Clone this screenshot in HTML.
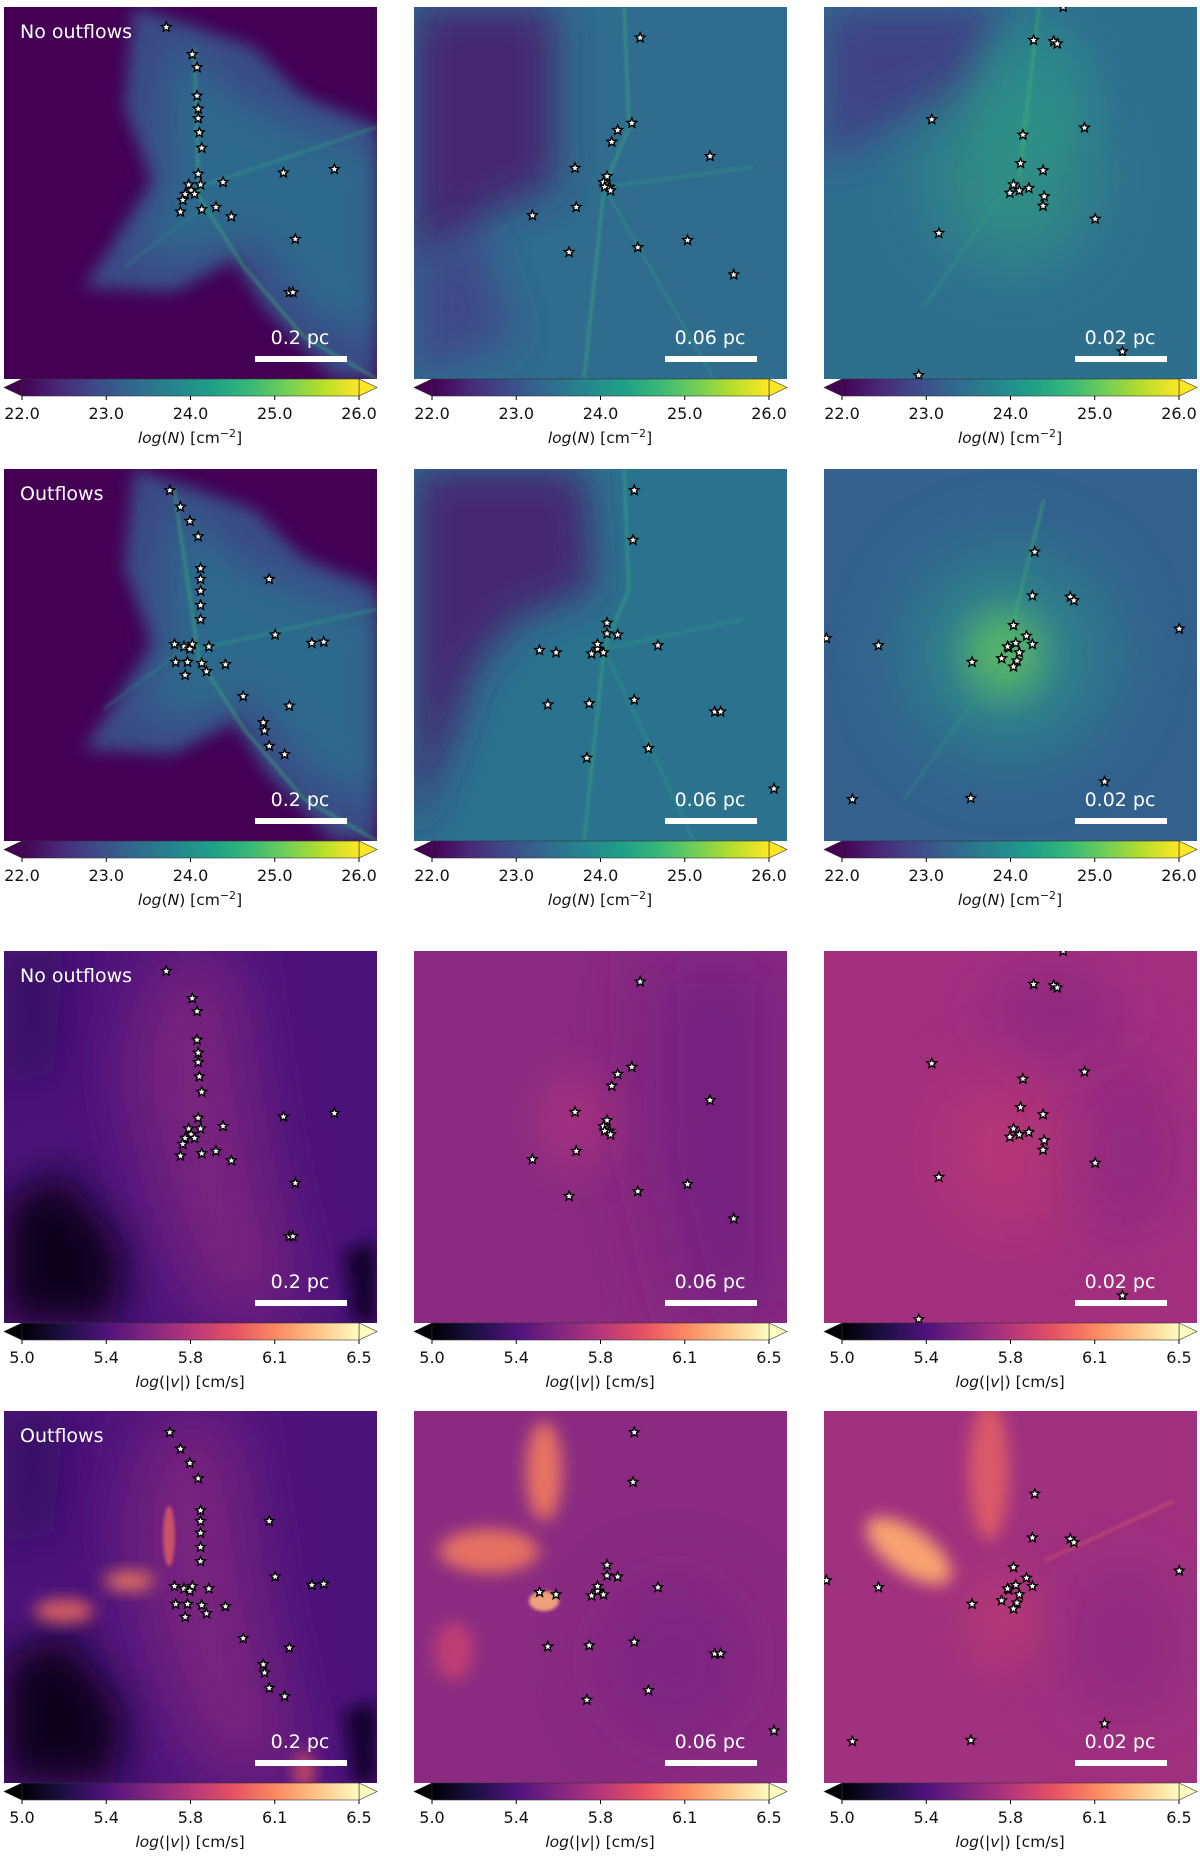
<!DOCTYPE html>
<html><head><meta charset="utf-8">
<style>
html,body{margin:0;padding:0;background:#fff;}
body{width:1200px;height:1853px;overflow:hidden;font-family:"DejaVu Sans","Liberation Sans",sans-serif;}
</style></head>
<body>
<svg id="fig" width="1200" height="1853" viewBox="0 0 1200 1853" xmlns="http://www.w3.org/2000/svg">
<defs>
<linearGradient id="viridis" x1="0" x2="1" y1="0" y2="0">
<stop offset="0" stop-color="#440154"/><stop offset="0.11" stop-color="#482878"/><stop offset="0.22" stop-color="#3e4a89"/><stop offset="0.33" stop-color="#31688e"/><stop offset="0.44" stop-color="#26828e"/><stop offset="0.56" stop-color="#1f9e89"/><stop offset="0.67" stop-color="#35b779"/><stop offset="0.78" stop-color="#6ece58"/><stop offset="0.89" stop-color="#b5de2b"/><stop offset="1" stop-color="#fde725"/>
</linearGradient>
<linearGradient id="magma" x1="0" x2="1" y1="0" y2="0">
<stop offset="0" stop-color="#000004"/><stop offset="0.125" stop-color="#1c1044"/><stop offset="0.25" stop-color="#4f127b"/><stop offset="0.375" stop-color="#812581"/><stop offset="0.5" stop-color="#b5367a"/><stop offset="0.625" stop-color="#e55064"/><stop offset="0.75" stop-color="#fb8761"/><stop offset="0.875" stop-color="#fec287"/><stop offset="1" stop-color="#fcfdbf"/>
</linearGradient>
<filter id="b35" x="-60%" y="-60%" width="220%" height="220%"><feGaussianBlur stdDeviation="35"/></filter>
<filter id="b20" x="-50%" y="-50%" width="200%" height="200%"><feGaussianBlur stdDeviation="20"/></filter>
<filter id="b8" x="-50%" y="-50%" width="200%" height="200%"><feGaussianBlur stdDeviation="8"/></filter>
<filter id="b2" x="-50%" y="-50%" width="200%" height="200%"><feGaussianBlur stdDeviation="1.5"/></filter>
</defs>
</svg>
<script>
// ---- colorbar data ----
const colTicks = ['22.0','23.0','24.0','25.0','26.0'];
const velTicks = ['5.0','5.4','5.8','6.1','6.5'];
const scaleLabels = ['0.2 pc','0.06 pc','0.02 pc'];
const rowLabels = ['No outflows','Outflows','No outflows','Outflows'];
// star positions (display-relative coords, 315px panel)
const starsNoOut1 = [[137,17],[159,40],[163,51],[163,75],[164,86],[164,94],[165,106],[167,119],[164,141],[156,150],[158,155],[153,158],[151,163],[161,158],[166,150],[149,173],[167,171],[179,169],[185,148],[192,177],[236,140],[279,137],[246,196],[241,241],[244,241]];
const starsNoOut2 = [[191,26],[184,98],[172,104],[167,114],[136,136],[163,143],[160,148],[165,152],[161,152],[166,155],[137,169],[100,176],[131,207],[189,203],[231,197],[250,126],[270,226]];
const starsNoOut3 = [[202,0],[177,28],[194,29],[197,31],[91,95],[168,108],[220,102],[166,132],[185,138],[160,150],[165,155],[157,157],[173,153],[186,160],[185,168],[229,179],[97,191],[80,311],[252,291]];
const starsOut1 = [[140,18],[149,32],[157,44],[164,57],[166,84],[166,93],[166,103],[166,115],[166,127],[224,93],[229,140],[144,148],[152,150],[159,148],[157,152],[173,150],[145,163],[155,163],[167,164],[171,171],[153,174],[202,192],[241,200],[219,214],[220,221],[224,234],[237,241],[260,147],[270,146],[187,165]];
const starsOut2 = [[186,18],[185,60],[163,130],[163,139],[172,140],[206,149],[106,153],[120,155],[150,156],[155,152],[160,155],[155,148],[113,199],[148,198],[186,195],[254,205],[259,205],[146,244],[198,236],[304,270]];
const starsOut3 = [[178,70],[176,107],[208,108],[211,111],[300,135],[2,143],[46,149],[160,132],[171,141],[176,148],[156,151],[165,155],[150,160],[163,162],[160,167],[125,163],[24,279],[124,278],[237,264],[155,150],[162,147]];

const NS='http://www.w3.org/2000/svg';
const svg=document.getElementById('fig');
const colX=[4,414,824], rowY=[7,469,951,1411], W=373, H=372, K=373/315;
function el(t,a,p){const e=document.createElementNS(NS,t);for(const k in a)e.setAttribute(k,a[k]);(p||svg).appendChild(e);return e;}

const cloud='130,0 250,40 300,90 373,120 373,372 330,372 260,300 230,250 170,285 80,280 120,220 150,175 120,100';
const cloudIn='170,30 230,90 300,120 373,140 373,340 300,300 250,230 190,250 130,250 165,180 160,100';
const magBase=[['poly','150,0 230,0 260,200 300,372 200,372 150,250 120,120','#8a2a80',0.75,'b35'],['poly','0,250 60,220 120,300 110,372 0,372','#07031a',1,'b20'],['poly','340,300 373,290 373,372 350,372','#100628',0.9,'b8'],['poly','0,0 60,0 50,120 0,140','#2d0d5a',0.7,'b20']];
const bgs=[
 [{bg:'#440154',sh:[['poly',cloud,'#3b528b',0.9,'b8'],['poly',cloudIn,'#2a718e',0.8,'b20'],['line','190,40 195,190 240,260 300,330 373,372','#3ab07c',0.8],['line','195,180 373,120','#2fa083',0.7],['line','200,200 120,260','#2b8a8c',0.6]]},
  {bg:'#2f6c8e',sh:[['poly','0,0 140,0 140,180 80,200 40,240 0,260','#45266f',1,'b20'],['poly','0,260 60,220 100,330 0,372','#3f4a89',1,'b20'],['line','210,0 215,120 190,180 170,372','#3bb57a',0.7],['line','190,180 340,160','#2aa084',0.6],['line','190,180 300,372','#2aa084',0.6]]},
  {bg:'#2f6f8e',sh:[['poly','0,0 180,0 150,80 60,120 0,160','#433e85',0.9,'b20'],['ell','190,170,80,90','#30a27f',0.6,'b35'],['ell','210,80,60,70','#2a9a88',0.5,'b20'],['line','195,170 215,0','#4fc06a',0.6],['line','190,170 100,300','#2fa083',0.6]]}],
 [{bg:'#440154',sh:[['poly',cloud,'#3b528b',0.9,'b8'],['poly',cloudIn,'#2a718e',0.8,'b20'],['line','170,20 195,190 240,260 300,330 373,372','#3ab07c',0.8],['line','195,180 373,140','#2fa083',0.7],['line','180,180 100,240','#2b8a8c',0.6]]},
  {bg:'#2b728e',sh:[['poly','0,0 170,0 180,120 100,150 60,200 40,260 0,372','#45256f',1,'b20'],['line','210,0 215,120 190,180 170,372','#3bb57a',0.7],['line','190,180 330,150','#2aa084',0.6],['line','190,180 280,372','#2aa084',0.6]]},
  {bg:'#33608d',sh:[['ell','185,185,110,110','#2a8c8c',0.7,'b35'],['ell','180,185,40,45','#6ccd5a',0.7,'b20'],['line','180,190 220,30','#45bd70',0.6],['line','180,190 80,330','#2fa083',0.5]]}],
 [{bg:'#4b137a',sh:magBase},
  {bg:'#8a2b81',sh:[['poly','230,0 373,0 373,372 270,372 230,200','#6d1f80',0.7,'b35'],['ell','160,170,40,50','#b5367a',0.5,'b20']]},
  {bg:'#a3307e',sh:[['ell','190,200,70,80','#c7416f',0.5,'b35'],['ell','300,200,60,90','#7f2482',0.5,'b35'],['ell','230,60,70,50','#7a2482',0.5,'b35']]}],
 [{bg:'#4b137a',sh:magBase.concat([['ell','60,200,30,12','#e8675f',0.9,'b8'],['ell','125,170,25,10','#f07a5e',0.9,'b8'],['ell','165,125,6,30','#e05d66',0.8,'b2'],['ell','300,360,10,20','#e85a63',0.8,'b8']])},
  {bg:'#8a2b81',sh:[['ell','75,140,50,22','#f0795f',0.9,'b8'],['ell','130,60,18,50','#f27c5f',0.9,'b8'],['ell','130,190,15,10','#f9ae7a',0.9,'b2'],['ell','40,240,20,30','#d4466f',0.7,'b8'],['ell','260,250,70,80','#6d1f80',0.5,'b35']]},
  {bg:'#a0317e',sh:[['ell','85,140,50,22','#fca870',0.95,'b8','rotate(35 85 140)'],['ell','165,60,20,70','#e96463',0.8,'b8'],['line','220,150 350,90','#e66564',0.7],['ell','300,230,60,80','#7f2482',0.5,'b35'],['ell','180,210,40,50','#c4416f',0.5,'b20']]}]
];
const starSets=[[starsNoOut1,starsNoOut2,starsNoOut3],[starsOut1,starsOut2,starsOut3],[starsNoOut1,starsNoOut2,starsNoOut3],[starsOut1,starsOut2,starsOut3]];

function starPath(cx,cy,r){let d='';for(let i=0;i<10;i++){const a=-Math.PI/2+i*Math.PI/5;const rr=i%2?r*0.45:r;d+=(i?'L':'M')+(cx+rr*Math.cos(a)).toFixed(1)+' '+(cy+rr*Math.sin(a)).toFixed(1);}return d+'Z';}

for(let r=0;r<4;r++){for(let c=0;c<3;c++){
 const x0=colX[c],y0=rowY[r],cfg=bgs[r][c];
 const g=el('g',{transform:`translate(${x0},${y0})`});
 
 
 const cid='clip'+r+c;
 const cp=el('clipPath',{id:cid},g);el('rect',{x:0,y:0,width:W,height:H},cp);
 const inner=el('g',{'clip-path':`url(#${cid})`},g);
 el('rect',{x:0,y:0,width:W,height:H,fill:cfg.bg},inner);
 for(const s of cfg.sh){
  let e;
  if(s[0]==='poly') e=el('polygon',{points:s[1],fill:s[2],opacity:s[3],filter:`url(#${s[4]})`},inner);
  else if(s[0]==='ell'){const v=s[1].split(',').map(Number);e=el('ellipse',{cx:v[0],cy:v[1],rx:v[2],ry:v[3],fill:s[2],opacity:s[3],filter:`url(#${s[4]})`},inner);if(s[5])e.setAttribute('transform',s[5]);}
  else e=el('polyline',{points:s[1],fill:'none',stroke:s[2],'stroke-width':2,opacity:s[3],filter:'url(#b2)'},inner);
 }
 for(const p of starSets[r][c]){
  const st=el('path',{d:starPath(p[0]*K,p[1]*K,5),fill:'#fff',stroke:'#000','stroke-width':1.4},inner);
  
  
 }
 if(c===0){const t=el('text',{x:16,y:31,fill:'#fff','font-size':19},g);t.textContent=rowLabels[r];
  }
 const sl=el('text',{x:296,y:337,fill:'#fff','font-size':19,'text-anchor':'middle'},g);sl.textContent=scaleLabels[c];
 
 const sb=el('rect',{x:251,y:349,width:92,height:6,fill:'#fff'},g);
 
 const cb=el('g',{transform:`translate(0,${H})`},g);
 
 const vel=r>=2, ticks=vel?velTicks:colTicks;
 const lo=vel?'#000004':'#440154', hi=vel?'#fcfdbf':'#fde725';
 el('polygon',{points:`0,8.5 18,0 18,17`,fill:lo,stroke:'#333','stroke-width':0.6},cb);
 el('polygon',{points:`355,0 373,8.5 355,17`,fill:hi,stroke:'#333','stroke-width':0.6},cb);
 el('rect',{x:18,y:0,width:337,height:17,fill:`url(#${vel?'magma':'viridis'})`,stroke:'#333','stroke-width':0.6},cb);
 ticks.forEach((tk,i)=>{const tx=18+337*i/(ticks.length-1);
  el('line',{x1:tx,x2:tx,y1:17,y2:21,stroke:'#000','stroke-width':1},cb);
  const t=el('text',{x:tx,y:40,'font-size':16,'text-anchor':'middle',fill:'#111'},cb);t.textContent=tk;
  });
 const lab=el('text',{x:186,y:64,'font-size':15.5,'text-anchor':'middle',fill:'#111'},cb);
 
 if(vel){lab.innerHTML='<tspan font-style="italic">log</tspan>(|<tspan font-style="italic">v</tspan>|) [cm/s]';}
 else{lab.innerHTML='<tspan font-style="italic">log</tspan>(<tspan font-style="italic">N</tspan>) [cm<tspan dy="-6" font-size="11">−2</tspan><tspan dy="6">]</tspan>';}
}}
</script>
</body></html>
